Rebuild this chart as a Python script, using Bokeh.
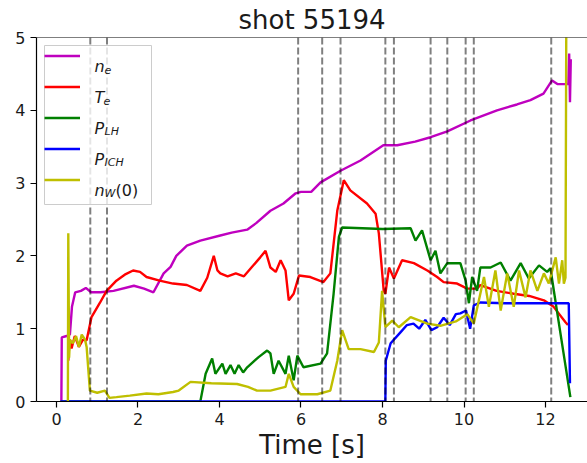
from bokeh.plotting import figure
from bokeh.models import Range1d, Span, Legend, LegendItem, Label, FixedTicker, BoxAnnotation
from bokeh.core.properties import value
from bokeh.embed import file_html
from bokeh.resources import INLINE

# ---------------- data ----------------
t_ne = [0.10, 0.12, 0.13, 0.25, 0.33, 0.38, 0.46, 0.60, 0.72, 0.85,
        1.08, 1.40, 1.90, 2.15, 2.38, 2.63, 2.80, 2.94, 3.20, 3.53,
        4.02, 4.30, 4.68, 4.90, 5.25, 5.57, 5.87, 6.00, 6.25, 6.48,
        6.97, 7.46, 8.02, 8.36, 8.80, 9.18, 9.59, 10.16, 10.81, 11.30,
        11.63, 11.95, 12.16, 12.29, 12.45, 12.56, 12.58, 12.60, 12.62]
ne = [0.00, 0.00, 0.88, 0.90, 0.92, 1.30, 1.50, 1.52, 1.56, 1.50,
      1.50, 1.52, 1.59, 1.55, 1.50, 1.76, 1.85, 2.00, 2.14, 2.21,
      2.28, 2.32, 2.36, 2.45, 2.62, 2.72, 2.86, 2.88, 2.88, 3.01,
      3.17, 3.31, 3.52, 3.52, 3.57, 3.63, 3.71, 3.86, 4.00, 4.08,
      4.14, 4.23, 4.41, 4.36, 4.36, 4.36, 4.78, 4.11, 4.70]

t_te = [0.29, 0.32, 0.37, 0.45, 0.55, 0.65, 0.74, 0.86, 1.06, 1.23,
        1.47, 1.70, 1.88, 2.05, 2.21, 2.53, 2.86, 3.20, 3.53, 3.70,
        3.86, 3.95, 4.02, 4.20, 4.40, 4.60, 4.80, 5.00, 5.13, 5.25,
        5.38, 5.50, 5.62, 5.70, 5.82, 5.95, 6.23, 6.55, 6.72, 6.89,
        7.05, 7.21, 7.62, 7.83, 7.91, 8.03, 8.07, 8.16, 8.28, 8.48,
        8.77, 9.10, 9.34, 9.50, 9.83, 10.08, 10.32, 10.40, 10.80, 11.22,
        11.60, 11.96, 12.20, 12.49, 12.55]
te = [0.56, 0.85, 0.73, 0.90, 0.75, 0.85, 0.84, 1.16, 1.35, 1.52,
      1.66, 1.75, 1.80, 1.78, 1.71, 1.66, 1.62, 1.60, 1.52, 1.70,
      2.00, 1.80, 1.76, 1.72, 1.76, 1.72, 1.85, 1.98, 2.07, 1.84,
      1.78, 1.94, 1.80, 1.39, 1.48, 1.73, 1.71, 1.64, 1.76, 2.62,
      3.04, 2.90, 2.72, 2.58, 2.31, 1.52, 1.48, 1.84, 1.69, 1.94,
      1.90, 1.80, 1.71, 1.64, 1.62, 1.55, 1.55, 1.60, 1.52, 1.48,
      1.45, 1.39, 1.30, 1.09, 1.05]

t_plh = [0.10, 3.53, 3.66, 3.82, 3.90, 4.07, 4.15, 4.27, 4.37, 4.47,
         4.58, 4.68, 4.96, 5.17, 5.25, 5.33, 5.45, 5.62, 5.70, 5.82,
         5.91, 6.06, 6.48, 6.64, 6.80, 6.93, 7.01, 8.00, 8.69, 8.81,
         8.97, 9.18, 9.30, 9.42, 9.59, 9.91, 10.04, 10.12, 10.20, 10.32,
         10.40, 10.65, 10.90, 11.14, 11.39, 11.59, 11.84, 12.04, 12.12, 12.29,
         12.61]
plh = [0.00, 0.00, 0.38, 0.59, 0.38, 0.52, 0.38, 0.50, 0.38, 0.50,
       0.40, 0.47, 0.61, 0.70, 0.66, 0.38, 0.56, 0.38, 0.63, 0.29,
       0.63, 0.47, 0.52, 0.66, 1.48, 2.26, 2.39, 2.37, 2.38, 2.21,
       2.35, 1.94, 2.07, 1.76, 1.90, 1.90, 1.66, 1.35, 1.71, 1.52,
       1.84, 1.84, 1.91, 1.66, 1.90, 1.69, 1.87, 1.78, 1.83, 1.21,
       0.06]

t_pich = [0.10, 8.07, 8.08, 8.20, 8.44, 8.60, 8.76, 8.90, 9.05, 9.20,
          9.34, 9.50, 9.65, 9.80, 9.91, 10.05, 10.15, 10.24, 10.40, 11.00,
          11.60, 12.20, 12.57, 12.60]
pich = [0.00, 0.00, 0.56, 0.80, 0.95, 1.05, 1.07, 1.00, 1.12, 0.98,
        1.02, 1.15, 1.05, 1.20, 1.21, 1.25, 1.00, 1.32, 1.36, 1.35,
        1.35, 1.35, 1.35, 0.25]

t_nw = [0.25, 0.28, 0.29, 0.31, 0.33, 0.40, 0.48, 0.55, 0.62, 0.70,
        0.74, 0.82, 1.00, 1.19, 1.30, 1.47, 1.80, 2.21, 2.50, 2.86,
        3.00, 3.29, 3.80, 4.43, 4.70, 4.92, 5.25, 5.62, 5.70, 5.82,
        5.99, 6.40, 6.72, 6.89, 7.01, 7.17, 7.46, 7.79, 7.91, 7.99,
        8.07, 8.24, 8.40, 8.69, 9.10, 9.42, 9.80, 10.08, 10.24, 10.49,
        10.61, 10.77, 10.90, 11.06, 11.22, 11.35, 11.51, 11.63, 11.80, 11.96,
        12.08, 12.25, 12.33, 12.41, 12.45, 12.49, 12.51]
nw = [0.00, 0.00, 2.31, 0.60, 0.85, 0.80, 0.90, 0.75, 0.92, 0.85,
      0.75, 0.15, 0.12, 0.15, 0.05, 0.06, 0.08, 0.11, 0.10, 0.13,
      0.15, 0.27, 0.25, 0.24, 0.20, 0.15, 0.15, 0.20, 0.38, 0.20,
      0.10, 0.10, 0.15, 0.56, 0.98, 0.72, 0.72, 0.68, 0.81, 1.52,
      1.02, 1.11, 1.02, 1.16, 1.07, 1.04, 1.10, 1.20, 1.07, 1.71,
      1.30, 1.80, 1.25, 1.76, 1.30, 1.80, 1.43, 1.80, 1.52, 1.76,
      1.62, 1.98, 1.62, 1.94, 1.62, 1.70, 5.30]

event_times = [0.83, 1.24, 5.93, 6.52, 6.97, 8.07, 8.28, 9.18, 9.59, 10.04, 10.24, 12.14]

x_ticks = [0, 2, 4, 6, 8, 10, 12]
y_ticks = [0, 1, 2, 3, 4, 5]

leg_main = ["n", "T", "P", "P", "n"]
leg_sub = ["e", "e", "LH", "ICH", "W"]
leg_tail = ["", "", "", "", "(0)"]

title_text = "shot 55194"
x_label = "Time [s]"

# ---------------- layout ----------------
W, H = 587, 463
BL, BT, BB, BR = 36, 37, 62, 0
X0, X1 = -0.49, 13.03
Y0, Y1 = 0.0, 5.0
FW, FH = W - BL - BR, H - BT - BB

def px2x(px):
    return X0 + (px - BL) / FW * (X1 - X0)

def px2y(py):
    return Y1 - (py - BT) / FH * (Y1 - Y0)

FONT = "DejaVu Sans"
TXT = "#1a1a1a"
LW = 2.4

p = figure(width=W, height=H, output_backend="svg", toolbar_location=None,
           x_range=Range1d(X0, X1), y_range=Range1d(Y0, Y1),
           min_border_left=BL, min_border_right=BR, min_border_top=BT,
           min_border_bottom=BB, title=title_text)
p.background_fill_color = "white"
p.border_fill_color = "white"
p.outline_line_color = None
p.xgrid.visible = False
p.ygrid.visible = False

p.title.text_font = FONT
p.title.text_font_size = "26px"
p.title.text_font_style = "normal"
p.title.text_color = TXT
p.title.align = "center"
p.title.standoff = 5

for ax in (p.xaxis[0], p.yaxis[0]):
    ax.axis_line_color = "black"
    ax.axis_line_width = 1.2
    ax.major_tick_line_color = "black"
    ax.major_tick_line_width = 1.2
    ax.major_tick_in = 0
    ax.major_tick_out = 6
    ax.minor_tick_in = 0
    ax.minor_tick_out = 0
    ax.major_label_text_font = FONT
    ax.major_label_text_font_size = "16px"
    ax.major_label_text_color = TXT
    ax.major_label_standoff = 5

p.xaxis.ticker = FixedTicker(ticks=x_ticks)
p.yaxis.ticker = FixedTicker(ticks=y_ticks)
p.xaxis.axis_label = x_label
p.xaxis.axis_label_text_font = FONT
p.xaxis.axis_label_text_font_size = "26px"
p.xaxis.axis_label_text_font_style = "normal"
p.xaxis.axis_label_text_color = TXT
p.xaxis.axis_label_standoff = 2

# ---------------- series ----------------
r_ne = p.line(t_ne, ne, line_color="#bf00bf", line_width=LW)
r_te = p.line(t_te, te, line_color="#ff0000", line_width=LW)
r_plh = p.line(t_plh, plh, line_color="#008000", line_width=LW)
r_pich = p.line(t_pich, pich, line_color="#0000ff", line_width=LW)
r_nw = p.line(t_nw, nw, line_color="#bfbf00", line_width=LW)

for t in event_times:
    p.add_layout(Span(location=t, dimension="height", line_color="black",
                      line_alpha=0.5, line_width=2, line_dash="7 3"))

# top spine
p.add_layout(Span(location=Y1, dimension="width", line_color="black", line_width=1.2))

# ---------------- legend ----------------
# legend frame (semi-transparent white box, drawn below the legend texts)
p.add_layout(BoxAnnotation(left=px2x(44), right=px2x(151), top=px2y(45), bottom=px2y(204),
                           fill_color="white", fill_alpha=0.8,
                           line_color="#cccccc", line_width=1, line_alpha=1.0))

renderers = [r_ne, r_te, r_plh, r_pich, r_nw]
items = [LegendItem(label=value(" "), renderers=[r]) for r in renderers]
PAD, GH, SP = 5, 21, 10
legend = Legend(items=items, location="top_left", margin=8, padding=PAD,
                spacing=SP, glyph_width=36, glyph_height=GH, label_height=GH,
                label_width=56, label_standoff=5,
                border_line_color=None, background_fill_alpha=0.0)
p.add_layout(legend)

sub_dx = {"n": 10, "T": 9, "P": 10}
for i, (m, s, tail) in enumerate(zip(leg_main, leg_sub, leg_tail)):
    cy = BT + 8 + PAD + GH / 2 + i * (GH + SP)
    tx = BL + 58
    p.add_layout(Label(x=px2x(tx), y=px2y(cy + 5.5), text=m, text_font=FONT,
                       text_font_size="16px", text_font_style="italic",
                       text_color=TXT, text_baseline="alphabetic", text_align="left"))
    sx = tx + sub_dx[m]
    p.add_layout(Label(x=px2x(sx), y=px2y(cy + 8.5), text=s, text_font=FONT,
                       text_font_size="11px", text_font_style="italic",
                       text_color=TXT, text_baseline="alphabetic", text_align="left"))
    if tail:
        p.add_layout(Label(x=px2x(sx + 11), y=px2y(cy + 5.5), text=tail, text_font=FONT,
                           text_font_size="16px", text_font_style="normal",
                           text_color=TXT, text_baseline="alphabetic", text_align="left"))

open("out.html", "w").write(file_html(p, INLINE))
